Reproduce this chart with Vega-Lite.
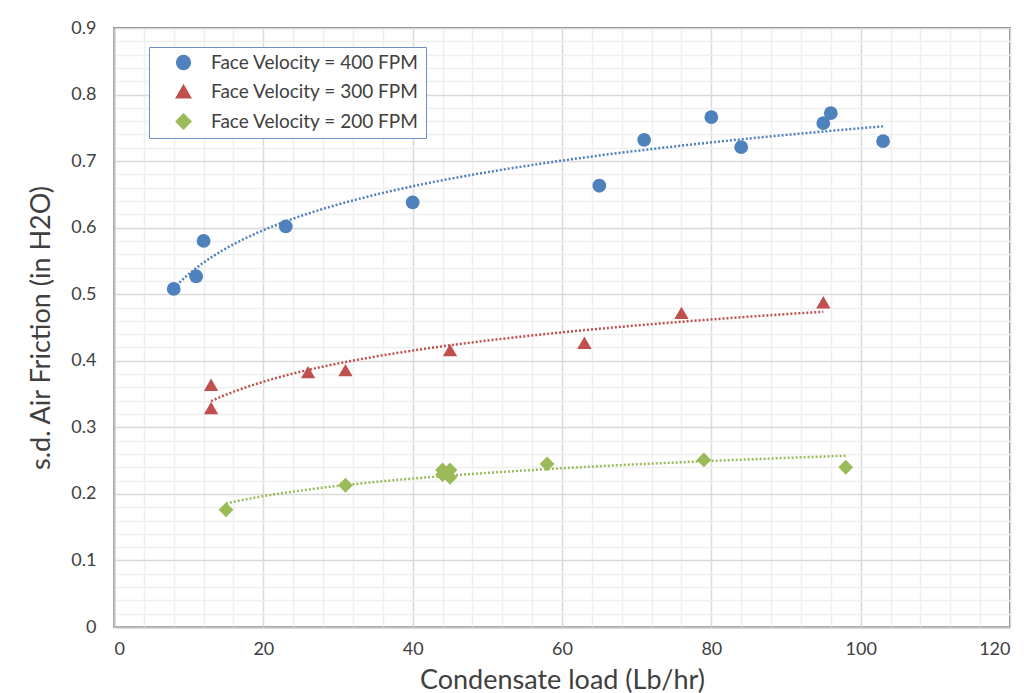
{
  "$schema": "https://vega.github.io/schema/vega-lite/v6.json",
  "autosize": {"type": "none"},
  "width": 896,
  "height": 599,
  "padding": {"left": 114, "top": 28, "right": 14, "bottom": 66},
  "background": "white",
  "config": {
    "font": "Lato",
    "view": {"stroke": "#595959", "strokeWidth": 1.5},
    "axis": {
      "labelFont": "Lato",
      "titleFont": "Lato",
      "labelColor": "#404040",
      "titleColor": "#404040",
      "labelFontSize": 18,
      "titleFontSize": 27,
      "titleFontWeight": "normal",
      "ticks": false,
      "domainColor": "#bfbfbf",
      "domainWidth": 2
    },
    "legend": {
      "title": null,
      "orient": "none",
      "legendX": 35,
      "legendY": 19,
      "strokeColor": "#6d8fcb",
      "fillColor": "white",
      "padding": 6,
      "labelFont": "Lato",
      "labelFontSize": 19,
      "labelColor": "#404040",
      "symbolOffset": 19,
      "labelOffset": 18,
      "rowPadding": 9,
      "labelLimit": 400
    }
  },
  "data": {
    "values": [
      {"series": "Face Velocity = 400 FPM", "load": 8, "friction": 0.508},
      {"series": "Face Velocity = 400 FPM", "load": 11, "friction": 0.527},
      {"series": "Face Velocity = 400 FPM", "load": 12, "friction": 0.58},
      {"series": "Face Velocity = 400 FPM", "load": 23, "friction": 0.602},
      {"series": "Face Velocity = 400 FPM", "load": 40, "friction": 0.638},
      {"series": "Face Velocity = 400 FPM", "load": 65, "friction": 0.663},
      {"series": "Face Velocity = 400 FPM", "load": 71, "friction": 0.732},
      {"series": "Face Velocity = 400 FPM", "load": 80, "friction": 0.766},
      {"series": "Face Velocity = 400 FPM", "load": 84, "friction": 0.721},
      {"series": "Face Velocity = 400 FPM", "load": 95, "friction": 0.757},
      {"series": "Face Velocity = 400 FPM", "load": 96, "friction": 0.772},
      {"series": "Face Velocity = 400 FPM", "load": 103, "friction": 0.73},
      {"series": "Face Velocity = 300 FPM", "load": 13, "friction": 0.364},
      {"series": "Face Velocity = 300 FPM", "load": 13, "friction": 0.329},
      {"series": "Face Velocity = 300 FPM", "load": 26, "friction": 0.383},
      {"series": "Face Velocity = 300 FPM", "load": 31, "friction": 0.386},
      {"series": "Face Velocity = 300 FPM", "load": 45, "friction": 0.416},
      {"series": "Face Velocity = 300 FPM", "load": 63, "friction": 0.427},
      {"series": "Face Velocity = 300 FPM", "load": 76, "friction": 0.472},
      {"series": "Face Velocity = 300 FPM", "load": 95, "friction": 0.488},
      {"series": "Face Velocity = 200 FPM", "load": 15, "friction": 0.176},
      {"series": "Face Velocity = 200 FPM", "load": 31, "friction": 0.213},
      {"series": "Face Velocity = 200 FPM", "load": 44, "friction": 0.236},
      {"series": "Face Velocity = 200 FPM", "load": 45, "friction": 0.236},
      {"series": "Face Velocity = 200 FPM", "load": 44, "friction": 0.229},
      {"series": "Face Velocity = 200 FPM", "load": 45, "friction": 0.225},
      {"series": "Face Velocity = 200 FPM", "load": 58, "friction": 0.245},
      {"series": "Face Velocity = 200 FPM", "load": 79, "friction": 0.251},
      {"series": "Face Velocity = 200 FPM", "load": 98, "friction": 0.24}
    ]
  },
  "encoding": {
    "x": {
      "field": "load", "type": "quantitative",
      "scale": {"domain": [0, 120], "nice": false, "zero": true},
      "axis": {
        "title": "Condensate load (Lb/hr)",
        "values": [0,4,8,12,16,20,24,28,32,36,40,44,48,52,56,60,64,68,72,76,80,84,88,92,96,100,104,108,112,116,120],
        "labelExpr": "datum.value % 20 === 0 ? format(datum.value, 'd') : ''",
        "gridColor": {"condition": {"test": "datum.value % 20 === 0", "value": "#d9d9d9"}, "value": "#efefef"},
        "gridWidth": 1.5,
        "labelPadding": 13,
        "titlePadding": 9,
        "labelOverlap": false
      }
    },
    "y": {
      "field": "friction", "type": "quantitative",
      "scale": {"domain": [0, 0.9], "nice": false},
      "axis": {
        "title": "s.d. Air Friction (in H2O)",
        "values": [0,0.02,0.04,0.06,0.08,0.1,0.12,0.14,0.16,0.18,0.2,0.22,0.24,0.26,0.28,0.3,0.32,0.34,0.36,0.38,0.4,0.42,0.44,0.46,0.48,0.5,0.52,0.54,0.56,0.58,0.6,0.62,0.64,0.66,0.68,0.7,0.72,0.74,0.76,0.78,0.8,0.82,0.84,0.86,0.88,0.9],
        "labelExpr": "abs(datum.value*10 - round(datum.value*10)) < 0.000001 ? format(datum.value, '.1~f') : ''",
        "gridColor": {"condition": {"test": "abs(datum.value*10 - round(datum.value*10)) < 0.000001", "value": "#d9d9d9"}, "value": "#efefef"},
        "gridWidth": 1.5,
        "labelPadding": 18,
        "titlePadding": 15,
        "labelOverlap": false
      }
    },
    "color": {
      "field": "series", "type": "nominal",
      "scale": {"domain": ["Face Velocity = 400 FPM", "Face Velocity = 300 FPM", "Face Velocity = 200 FPM"], "range": ["#4F81BD", "#C0504D", "#9BBB59"]}
    }
  },
  "layer": [
    {
      "mark": {"type": "point", "filled": true, "opacity": 1},
      "encoding": {
        "shape": {
          "field": "series", "type": "nominal",
          "scale": {"domain": ["Face Velocity = 400 FPM", "Face Velocity = 300 FPM", "Face Velocity = 200 FPM"], "range": ["circle", "triangle-up", "diamond"]}
        },
        "size": {
          "field": "series", "type": "nominal",
          "scale": {"domain": ["Face Velocity = 400 FPM", "Face Velocity = 300 FPM", "Face Velocity = 200 FPM"], "range": [190, 220, 200]}
        }
      }
    },
    {
      "transform": [
        {"regression": "friction", "on": "load", "groupby": ["series"], "method": "log"}
      ],
      "mark": {"type": "line", "strokeDash": [2, 2], "strokeWidth": 2.5},
      "encoding": {}
    }
  ]
}
